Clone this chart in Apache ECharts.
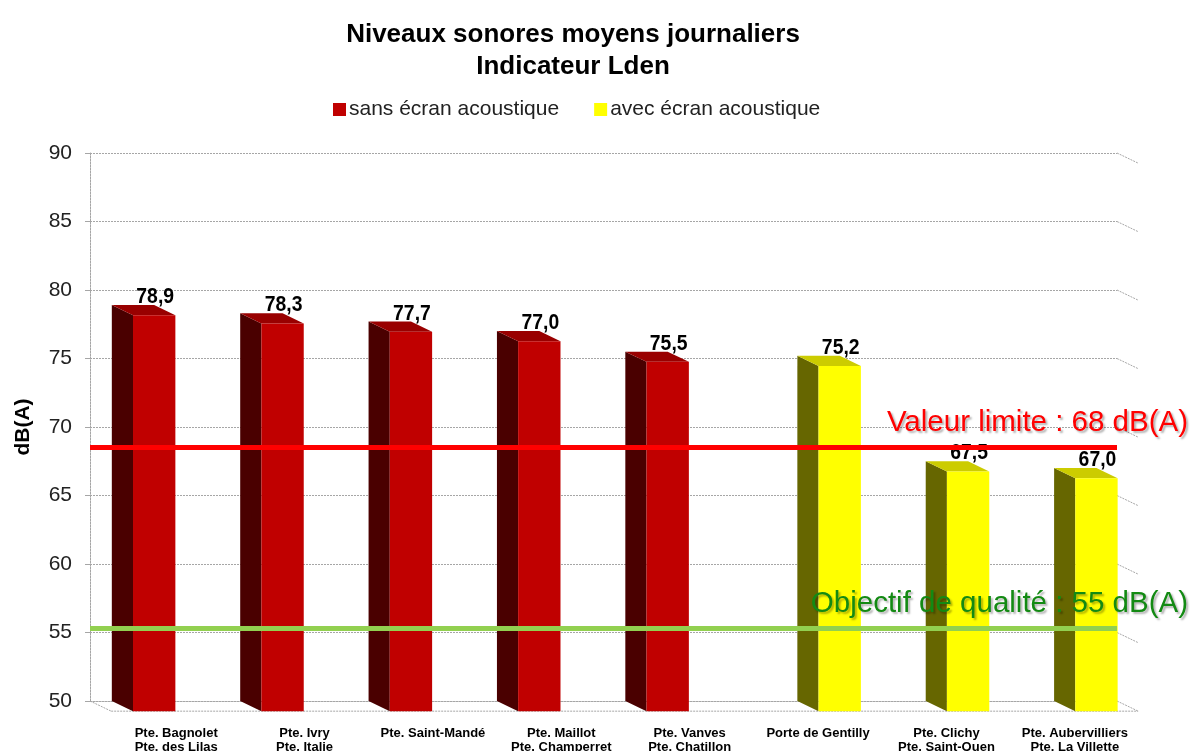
<!DOCTYPE html>
<html>
<head>
<meta charset="utf-8">
<script src="https://cdn.jsdelivr.net/npm/echarts@6/dist/echarts.min.js"></script>
<style>
  html, body { margin: 0; padding: 0; background: #fff; }
  #chart { width: 1194px; height: 751px; }
</style>
</head>
<body>
<div id="chart"></div>
<script>
// values
const categories = [
  'Pte. Bagnolet\nPte. des Lilas',
  'Pte. Ivry\nPte. Italie',
  'Pte. Saint-Mandé',
  'Pte. Maillot\nPte. Champerret',
  'Pte. Vanves\nPte. Chatillon',
  'Porte de Gentilly',
  'Pte. Clichy\nPte. Saint-Ouen',
  'Pte. Aubervilliers\nPte. La Villette'
]
const sansEcran = [78.9, 78.3, 77.7, 77.0, 75.5, null, null, null]
const avecEcran = [null, null, null, null, null, 75.2, 67.5, 67.0]
const yTicks = [50, 55, 60, 65, 70, 75, 80, 85, 90]
const limitValues = [68.5, 55.3]
const limitLabels = ['Valeur limite : 68 dB(A)', 'Objectif de qualité : 55 dB(A)']

const sans = '"Liberation Sans", Arial, sans-serif'
const gridColor = '#a6a6a6'
const limitColors = [['#ff0000', '#ff0000'], ['#92d050', '#138a13']]

const toPairs = arr => arr.map((v, i) => v == null ? null : [i, v]).filter(d => d)

// 3D looking column: front face, dark side on the left, top
function bar3d(colors, shift) {
  return function (params, api) {
    const i = api.value(0)
    const v = api.value(1)
    const top = api.coord([i, v])
    const base = api.coord([i, yTicks[0]])
    const bw = api.size([1, 0])[0]
    const w = bw * 0.33
    const dx = bw * 0.165
    const dy = dx * 0.48
    const fc = top[0] + bw * shift
    const fl = fc - w / 2
    const fr = fc + w / 2
    const yt = top[1]
    const yb = base[1]
    return {
      type: 'group',
      children: [
        {type: 'polygon', shape: {points: [[fl - dx, yt], [fl, yt + dy], [fl, yb + dy], [fl - dx, yb]]}, style: {fill: colors[1]}},
        {type: 'polygon', shape: {points: [[fl - dx, yt], [fr - dx, yt], [fr, yt + dy], [fl, yt + dy]]}, style: {fill: colors[2]}},
        {type: 'rect', shape: {x: fl, y: yt + dy, width: w, height: yb - yt}, style: {fill: colors[0]}},
        {
          type: 'text',
          x: fc + 1,
          y: yt + 3,
          scaleX: 0.88,
          style: {
            text: v.toFixed(1).replace('.', ','),
            x: 0, y: 0,
            align: 'center', verticalAlign: 'bottom',
            textAlign: 'center', textVerticalAlign: 'bottom',
            font: 'bold 22px ' + sans,
            fill: '#000'
          }
        }
      ]
    }
  }
}

// perspective tails of the grid lines and the floor
function walls(params, api) {
  const v = api.value(1)
  const cs = params.coordSys
  const bw = api.size([1, 0])[0]
  const dx = bw * 0.165
  const dy = dx * 0.48
  const y = api.coord([0, v])[1]
  const l = cs.x
  const r = cs.x + cs.width
  const style = {stroke: gridColor, lineWidth: 1, lineDash: [2, 1]}
  const children = [{type: 'line', shape: {x1: r, y1: y, x2: r + dx, y2: y + dy}, style}]
  if (v === yTicks[0]) {
    children.push({type: 'line', shape: {x1: l, y1: y, x2: l + dx, y2: y + dy}, style})
    children.push({type: 'line', shape: {x1: l + dx, y1: y + dy, x2: r + dx, y2: y + dy}, style})
  }
  return {type: 'group', children}
}

function limits(params, api) {
  const idx = params.dataIndex
  const v = api.value(1)
  const cs = params.coordSys
  const y = api.coord([0, v])[1]
  const r = cs.x + cs.width
  return {
    type: 'group',
    children: [
      {type: 'line', shape: {x1: cs.x, y1: y, x2: r, y2: y}, style: {stroke: limitColors[idx][0], lineWidth: 5}},
      {
        type: 'text',
        style: {
          text: limitLabels[idx],
          x: r + 71, y: y - 10,
          align: 'right', verticalAlign: 'bottom',
          textAlign: 'right', textVerticalAlign: 'bottom',
          font: '29.5px ' + sans,
          fill: limitColors[idx][1],
          textShadowColor: 'rgba(0,0,0,0.3)',
          textShadowOffsetX: 2,
          textShadowOffsetY: 2,
          textShadowBlur: 2
        }
      }
    ]
  }
}

const chart = echarts.init(document.getElementById('chart'))

chart.setOption({
  animation: false,
  title: {
    text: 'Niveaux sonores moyens journaliers\nIndicateur Lden',
    left: 568,
    top: 14,
    textAlign: 'center',
    textStyle: {fontFamily: sans, fontSize: 26, fontWeight: 'bold', lineHeight: 32, color: '#000'}
  },
  legend: {
    data: ['sans écran acoustique', 'avec écran acoustique'],
    left: 328,
    top: 94,
    icon: 'rect',
    itemWidth: 13,
    itemHeight: 13,
    itemGap: 35,
    textStyle: {fontFamily: sans, fontSize: 21, color: '#222', padding: [0, 0, 0, -2]}
  },
  grid: {left: 90, right: 77, top: 153, bottom: 50, containLabel: false, outerBoundsMode: 'none'},
  xAxis: {
    type: 'category',
    data: categories,
    axisLine: {lineStyle: {color: gridColor, type: [2, 1]}},
    axisTick: {show: false},
    axisLabel: {
      interval: 0,
      margin: 25,
      padding: [0, 0, 0, 44],
      fontFamily: sans,
      fontWeight: 'bold',
      fontSize: 13,
      lineHeight: 14,
      color: '#000'
    }
  },
  yAxis: {
    type: 'value',
    min: yTicks[0],
    max: yTicks[yTicks.length - 1],
    interval: 5,
    name: 'dB(A)',
    nameLocation: 'middle',
    nameGap: 56,
    nameTextStyle: {fontFamily: sans, fontSize: 21, fontWeight: 'bold', color: '#000'},
    axisLine: {show: true, lineStyle: {color: gridColor, type: [2, 1]}},
    axisTick: {show: true, length: 5, lineStyle: {color: gridColor}},
    splitLine: {lineStyle: {color: gridColor, type: [2, 1]}},
    axisLabel: {fontFamily: sans, fontSize: 21, color: '#222', margin: 18}
  },
  series: [
    {
      name: 'walls',
      type: 'custom',
      renderItem: walls,
      clip: false,
      silent: true,
      z: 1,
      data: yTicks.map(v => [0, v])
    },
    {
      name: 'sans écran acoustique',
      type: 'custom',
      renderItem: bar3d(['#c00000', '#4a0000', '#990000'], 0),
      clip: false,
      z: 2,
      itemStyle: {color: '#c00000'},
      data: toPairs(sansEcran)
    },
    {
      name: 'avec écran acoustique',
      type: 'custom',
      renderItem: bar3d(['#ffff00', '#666600', '#cccc00'], 0.34),
      clip: false,
      z: 2,
      itemStyle: {color: '#ffff00'},
      data: toPairs(avecEcran)
    },
    {
      name: 'limits',
      type: 'custom',
      renderItem: limits,
      clip: false,
      silent: true,
      z: 5,
      data: limitValues.map(v => [0, v])
    }
  ]
})
</script>
</body>
</html>
